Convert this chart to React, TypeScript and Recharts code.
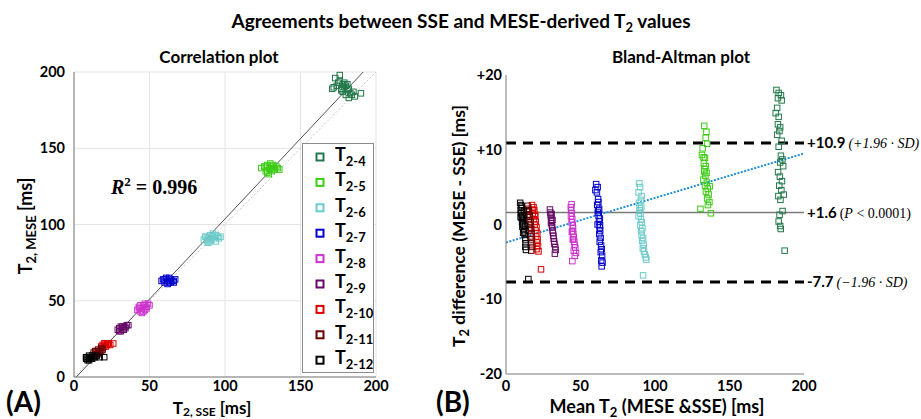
import React from 'react'
import {
  CartesianGrid,
  ReferenceLine,
  Scatter,
  ScatterChart,
  XAxis,
  YAxis,
} from 'recharts'

// group labels and colours (T2 echo index)
const groupLabels = ['2-4', '2-5', '2-6', '2-7', '2-8', '2-9', '2-10', '2-11', '2-12']
const groupColors = [
  '#23784a',
  '#3ccc14',
  '#6ccaca',
  '#0000cc',
  '#cc33cc',
  '#660a66',
  '#dd0000',
  '#6a0000',
  '#000000',
]

// correlation plot: [T2 SSE, T2 MESE]
const corrT2_4 = [
  [172, 190], [174, 191], [175, 193], [173, 196], [176, 198], [178, 192], [177, 189], [179, 190],
  [180, 191], [181, 188], [182, 189], [178, 187], [183, 186], [184, 185], [185, 187], [180, 185],
  [182, 183], [186, 184], [176, 194], [179, 193], [181, 192], [177, 188], [190, 186], [171, 189],
]
const corrT2_5 = [
  [124, 137], [126, 138], [127, 135], [128, 139], [129, 137], [130, 136], [131, 138], [132, 137],
  [128, 134], [130, 140], [133, 136], [134, 138], [135, 137], [129, 133], [131, 135], [127, 138],
  [132, 139], [136, 136],
]
const corrT2_6 = [
  [86, 90], [87, 92], [88, 89], [89, 91], [90, 93], [91, 90], [92, 92], [93, 91], [94, 89],
  [95, 92], [96, 91], [97, 92], [88, 92], [90, 89], [92, 94], [94, 93], [89, 88],
]
const corrT2_7 = [
  [58, 63], [59, 64], [60, 62], [61, 65], [62, 63], [63, 62], [64, 64], [65, 63], [66, 62],
  [67, 64], [60, 64], [62, 61], [64, 62], [66, 63], [63, 65],
]
const corrT2_8 = [
  [42, 44], [43, 46], [44, 43], [45, 45], [46, 47], [47, 44], [48, 46], [49, 48], [50, 47],
  [44, 47], [46, 43], [48, 45], [45, 42], [47, 48], [43, 45],
]
const corrT2_9 = [
  [29, 31], [30, 32], [31, 30], [32, 33], [33, 31], [34, 32], [35, 34], [31, 33], [33, 33],
  [30, 30], [32, 31], [34, 33], [36, 34],
]
const corrT2_10 = [
  [18, 20], [19, 21], [20, 22], [21, 20], [22, 21], [23, 22], [19, 19], [21, 22], [24, 21],
  [26, 22], [20, 20], [22, 22],
]
const corrT2_11 = [
  [13, 16], [14, 17], [15, 15], [16, 18], [17, 17], [18, 19], [19, 18], [15, 17], [17, 16],
  [16, 15], [14, 15], [18, 17],
]
const corrT2_12 = [
  [8, 12], [9, 13], [10, 12], [11, 13], [12, 14], [9, 11], [10, 14], [11, 12], [12, 12],
  [13, 13], [14, 13], [15, 14], [17, 13], [20, 13], [8, 13], [10, 11],
]

// Bland-Altman plot: [mean T2, MESE - SSE]
const baT2_4 = [
  [181.5, 18.0], [183, 17.6], [184.5, 17.3], [182.5, 16.9], [185, 16.6], [182, 15.6], [181, 14.9],
  [183, 14.4], [182.5, 13.4], [184, 13.0], [183.5, 12.5], [182, 12.0], [185, 11.2], [183, 10.4],
  [184.5, 9.2], [185.5, 8.7], [184, 8.3], [186, 7.8], [182.6, 7.0], [183.8, 6.4], [185.2, 5.8],
  [183.4, 5.2], [184.8, 4.6], [186.4, 4.0], [182.8, 3.8], [184.2, 3.3], [185.6, 1.8], [183.6, 1.3],
  [183, 0.4], [184, -0.2], [184.4, -0.6], [187, -3.5],
]
const baT2_5 = [
  [133, 13.2], [134.5, 12.4], [134, 11.6], [135, 10.8], [132, 10.2], [131.5, 9.3], [133.5, 8.9],
  [132.8, 8.2], [134, 7.8], [133.2, 7.4], [134.6, 6.9], [133.8, 6.5], [132.5, 6.0], [134.8, 5.6],
  [133.6, 5.2], [135.4, 4.8], [134.2, 4.4], [136, 4.0], [135, 3.5], [136.5, 3.0], [135.5, 2.6],
  [130.5, 2.1], [137.5, 1.5], [133, 7.1], [136.8, 5.1], [132.6, 9.0],
]
const baT2_6 = [
  [89.5, 5.5], [90, 5.0], [89, 4.3], [91, 3.8], [90.5, 3.3], [89.2, 2.9], [90.8, 2.4], [89.6, 1.9],
  [90.2, 1.5], [89, 1.1], [90.6, 0.7], [91.2, 0.3], [90, -0.1], [91.5, -0.5], [90.8, -0.9],
  [91, -1.4], [92, -1.8], [91.4, -2.2], [92.4, -2.7], [91.8, -3.2], [92.6, -3.6], [93.2, -4.0],
  [93.8, -4.4], [94.2, -4.7], [92, -6.8], [89.8, 2.2],
]
const baT2_7 = [
  [60.5, 5.4], [61.5, 5.0], [60, 4.6], [61, 4.3], [61.8, 3.4], [62, 3.0], [61.2, 2.6], [62.5, 2.1],
  [61.6, 1.6], [62.2, 1.2], [63, 0.8], [62.4, 0.4], [61.5, 0.0], [62.8, -0.4], [63.2, -0.8],
  [62.6, -1.3], [63.5, -1.8], [62.9, -2.3], [63.8, -2.8], [64.2, -3.3], [63.6, -3.7], [64.5, -4.2],
  [63.9, -4.8], [64.8, -5.1], [64.2, -5.6], [62, 1.9], [63.1, -0.1],
]
const baT2_8 = [
  [44, 2.7], [43.5, 2.3], [43.8, 1.9], [44.2, 1.5], [43.6, 1.1], [44.5, 0.7], [44, 0.3], [44.8, -0.1],
  [45, -0.5], [44.6, -0.9], [45.2, -1.3], [45.5, -1.7], [44.9, -2.0], [45.8, -2.3], [46, -2.7],
  [46.5, -3.1], [45.5, -3.5], [47, -3.8], [46.2, -4.2], [44.5, -4.9], [45, -2.0], [44.2, -1.0],
]
const baT2_9 = [
  [29.5, 2.0], [29.8, 1.6], [30, 1.2], [30.3, 0.9], [30.5, 0.5], [30.2, 0.2], [30.8, -0.1],
  [31, -0.4], [31.3, -0.8], [31.5, -1.1], [31.8, -1.5], [32, -1.9], [32.3, -2.3], [32.5, -2.6],
  [33, -3.0], [33.3, -3.4], [32.8, -3.9], [31.2, 0.6], [30.6, 1.4],
]
const baT2_10 = [
  [17.5, 2.6], [18.5, 2.3], [19, 1.9], [18, 1.5], [19.5, 1.1], [18.8, 0.7], [20, 0.4], [19.2, 0.0],
  [20.5, -0.4], [19.8, -0.8], [21, -1.2], [20.2, -1.6], [21.2, -2.0], [20.8, -2.4], [21.5, -2.9],
  [20.5, -3.3], [21.8, -3.6], [23.5, -6.0], [17.8, 2.0], [19.6, 1.3],
]
const baT2_11 = [
  [14.5, 2.5], [15, 2.1], [15.5, 1.7], [14.8, 1.3], [16, 1.0], [15.2, 0.6], [16.5, 0.3], [15.8, 0.0],
  [16.2, -0.4], [15.5, -0.8], [17, -1.2], [16.4, -1.6], [17.2, -2.0], [16.8, -2.5], [17.5, -3.0],
  [17, -3.5], [14.2, 1.9], [15.7, 1.2], [16.9, -0.6],
]
const baT2_12 = [
  [9.5, 2.9], [10, 2.6], [10.5, 2.2], [9.8, 1.9], [10.2, 1.5], [11, 1.2], [10.5, 0.9], [11.2, 0.6],
  [10.8, 0.3], [11.5, 0.0], [11, -0.3], [11.8, -0.6], [12.2, -0.9], [11.5, -1.1], [12.5, -1.4],
  [13, -2.0], [13.2, -2.5], [13, -3.0], [13.4, -3.4], [12, 1.8], [10.6, 2.4], [11.8, 0.8],
  [15, -7.3], [9.8, 1.0], [12.8, -0.2],
]

const corrGroups = [corrT2_4, corrT2_5, corrT2_6, corrT2_7, corrT2_8, corrT2_9, corrT2_10, corrT2_11, corrT2_12]
const baGroups = [baT2_4, baT2_5, baT2_6, baT2_7, baT2_8, baT2_9, baT2_10, baT2_11, baT2_12]

const t2Ticks = [0, 50, 100, 150, 200]
const diffTicks = [-20, -10, 0, 10, 20]
const identityLine = [{ x: 0, y: 0 }, { x: 200, y: 200 }]
const corrFit = [{ x: 1.5, y: 0 }, { x: 191.5, y: 200 }]
const baFit = [{ x: 0, y: -2.4 }, { x: 200, y: 9.5 }]
const baMean = 1.6
const baUpper = 10.9
const baLower = -7.7

const SANS = 'Lato, "Open Sans", sans-serif'
const SERIF = '"Liberation Serif", "DejaVu Serif", serif'
const tickStyle = { fontFamily: SANS, fontSize: 14.5, fontWeight: 700, fill: '#000' }

const toPoints = (rows: number[][]) => rows.map(([x, y]) => ({ x, y }))

const square = (color: string) => (props: any) => {
  const { cx, cy } = props
  if (cx == null || cy == null) return <g />
  return (
    <rect x={cx - 2.75} y={cy - 2.75} width={5.5} height={5.5} fill="none" stroke={color} strokeWidth={1} />
  )
}

const limitLabel = (value: string, note: React.ReactNode) => (props: any) => {
  const { viewBox } = props
  const x = viewBox.x + viewBox.width + 3
  const y = viewBox.y + 5
  return (
    <text x={x} y={y} fontSize={14}>
      <tspan fontFamily={SANS} fontWeight={700} fontSize={15}>{value}</tspan>
      <tspan fontFamily={SERIF} dx={3}>{note}</tspan>
    </text>
  )
}

function CorrelationChart() {
  return (
    <ScatterChart width={460} height={419} margin={{ top: 72, right: 84, bottom: 12, left: 34 }}>
      <CartesianGrid stroke="#e4e4e4" />
      <XAxis
        type="number"
        dataKey="x"
        domain={[0, 200]}
        ticks={t2Ticks}
        height={30}
        tickLine={false}
        tickSize={0}
        tickMargin={4}
        axisLine={{ stroke: '#7a7a7a' }}
        tick={tickStyle}
      />
      <YAxis
        type="number"
        dataKey="y"
        domain={[0, 200]}
        ticks={t2Ticks}
        width={40}
        tickLine={false}
        tickSize={0}
        tickMargin={9}
        axisLine={{ stroke: '#7a7a7a' }}
        tick={tickStyle}
      />
      <ReferenceLine segment={identityLine} stroke="#c4c4c4" strokeDasharray="2 2" ifOverflow="hidden" />
      <ReferenceLine segment={corrFit} stroke="#404040" strokeWidth={0.9} ifOverflow="hidden" />
      {corrGroups.map((rows, i) => (
        <Scatter
          key={groupLabels[i]}
          data={toPoints(rows)}
          shape={square(groupColors[i])}
          isAnimationActive={false}
        />
      ))}
    </ScatterChart>
  )
}

function BlandAltmanChart() {
  return (
    <ScatterChart width={461} height={419} margin={{ top: 75, right: 117, bottom: 15, left: 6 }}>
      <XAxis
        type="number"
        dataKey="x"
        domain={[0, 200]}
        ticks={t2Ticks}
        height={30}
        tickLine={false}
        tickSize={0}
        tickMargin={7}
        axisLine={{ stroke: '#7a7a7a' }}
        tick={tickStyle}
      />
      <YAxis
        type="number"
        dataKey="y"
        domain={[-20, 20]}
        ticks={diffTicks}
        width={40}
        tickLine={false}
        tickSize={0}
        tickMargin={4}
        axisLine={{ stroke: '#7a7a7a' }}
        tick={tickStyle}
        tickFormatter={(v: number) => (v > 0 ? `+${v}` : `${v}`)}
      />
      <ReferenceLine
        y={baMean}
        stroke="#7a7a7a"
        strokeWidth={1.5}
        label={limitLabel('+1.6', <>(<tspan fontStyle="italic">P</tspan> &lt; 0.0001)</>)}
      />
      {baGroups.map((rows, i) => (
        <Scatter
          key={groupLabels[i]}
          data={toPoints(rows)}
          shape={square(groupColors[i])}
          isAnimationActive={false}
        />
      ))}
      <ReferenceLine
        y={baUpper}
        stroke="#000"
        strokeWidth={3}
        strokeDasharray="10 7"
        label={limitLabel('+10.9', <tspan fontStyle="italic">(+1.96 · SD)</tspan>)}
      />
      <ReferenceLine
        y={baLower}
        stroke="#000"
        strokeWidth={3}
        strokeDasharray="10 7"
        label={limitLabel('-7.7', <tspan fontStyle="italic">(−1.96 · SD)</tspan>)}
      />
      <ReferenceLine segment={baFit} stroke="#1f8ee0" strokeWidth={2} strokeDasharray="2 1.5" ifOverflow="hidden" />
    </ScatterChart>
  )
}

export default function App() {
  return (
    <div style={{ position: 'absolute', left: 0, top: 0, width: 921, height: 419, background: '#fff', overflow: 'hidden' }}>
      <div style={{ position: 'absolute', left: 0, top: 0 }}>
        <CorrelationChart />
      </div>
      <div style={{ position: 'absolute', left: 460, top: 0 }}>
        <BlandAltmanChart />
      </div>
      <svg
        width={921}
        height={419}
        style={{ position: 'absolute', left: 0, top: 0, pointerEvents: 'none' }}
        fontFamily={SANS}
        fontWeight={700}
      >
        <text x={461} y={28} fontSize={19} textAnchor="middle">
          Agreements between SSE and MESE-derived T<tspan fontSize={13} dy={4}>2</tspan>
          <tspan dy={-4}> values</tspan>
        </text>
        <text x={219} y={63} fontSize={17} textAnchor="middle">Correlation plot</text>
        <text x={681} y={63} fontSize={17} textAnchor="middle">Bland-Altman plot</text>

        <text x={111} y={194} fontSize={20} fontFamily={SERIF}>
          <tspan fontStyle="italic">R</tspan>
          <tspan fontSize={13} dy={-8}>2</tspan>
          <tspan dy={8}> = 0.996</tspan>
        </text>

        <text x={32} y={226} fontSize={18} textAnchor="middle" transform="rotate(-90 32 226)">
          T<tspan fontSize={13} dy={4}>2, MESE</tspan>
          <tspan dy={-4}> [ms]</tspan>
        </text>
        <text x={212} y={414} fontSize={17} textAnchor="middle">
          T<tspan fontSize={12} dy={2}>2, SSE</tspan>
          <tspan dy={-2}> [ms]</tspan>
        </text>
        <text x={465} y={226} fontSize={17.5} textAnchor="middle" transform="rotate(-90 465 226)">
          T<tspan fontSize={13} dy={4}>2</tspan>
          <tspan dy={-4}> difference (MESE - SSE) [ms]</tspan>
        </text>
        <text x={657} y={413} fontSize={18} textAnchor="middle">
          Mean T<tspan fontSize={13} dy={4}>2</tspan>
          <tspan dy={-4}> (MESE &amp;SSE) [ms]</tspan>
        </text>
        <text x={6} y={412} fontSize={28}>(A)</text>
        <text x={436} y={412} fontSize={28}>(B)</text>

        <rect x={302.5} y={143.5} width={71} height={229} fill="#fff" stroke="#8c8c8c" strokeWidth={1} />
        {groupLabels.map((label, i) => {
          const cy = 157 + i * 25.4
          return (
            <g key={label}>
              <rect x={316.5} y={cy - 3.5} width={7} height={7} fill="none" stroke={groupColors[i]} strokeWidth={2} />
              <text x={335} y={cy + 4} fontSize={18}>
                T<tspan fontSize={13} dy={5}>{label}</tspan>
              </text>
            </g>
          )
        })}
      </svg>
    </div>
  )
}
